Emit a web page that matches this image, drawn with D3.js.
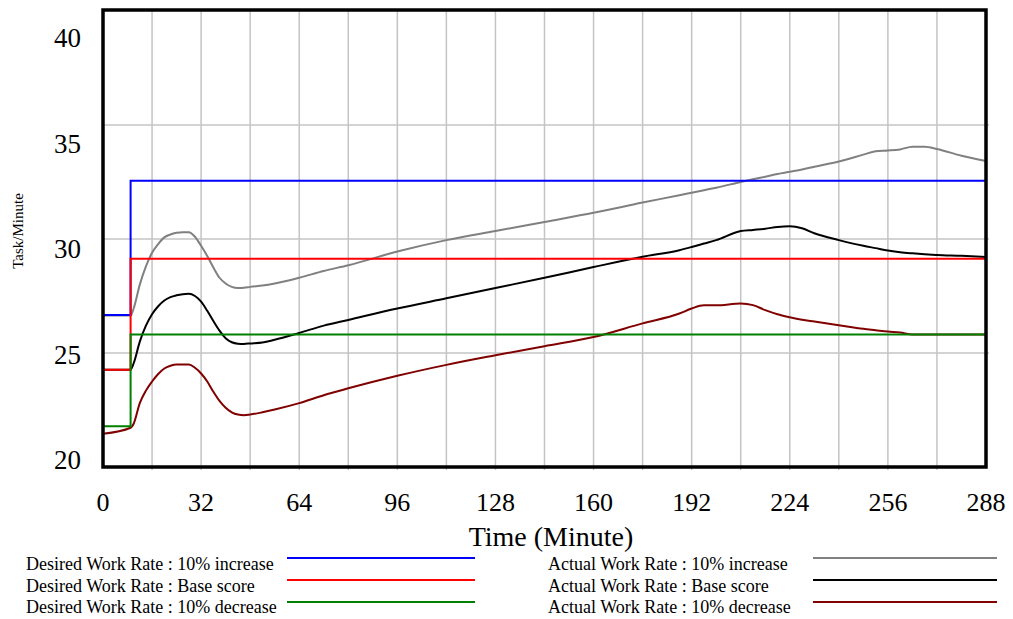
<!DOCTYPE html>
<html>
<head>
<meta charset="utf-8">
<script src="https://cdn.jsdelivr.net/npm/d3@7"></script>
<style>
  body { margin: 0; background: #fff; }
  svg { display: block; font-family: "Liberation Serif", "Times New Roman", serif; }
</style>
</head>
<body>
<svg id="chart" width="1013" height="619"></svg>
<script>
// time grid shared by the three "actual" series (minutes)
const times = [0, 9, 10, 12, 14, 16, 18, 20, 22, 24, 26, 28, 30, 32, 34, 36, 38, 40, 42, 44, 46, 48,
  52, 56, 64, 72, 80, 96, 112, 128, 144, 160, 176, 188, 192, 196, 200, 208, 212, 216, 220, 224, 228,
  232, 240, 248, 252, 256, 260, 264, 268, 272, 280, 288];

const actualUp = [26.64, 26.64, 26.95, 28.0, 28.8, 29.4, 29.78, 30.07, 30.2, 30.27, 30.3, 30.3, 30.1,
  29.7, 29.25, 28.75, 28.3, 28.05, 27.9, 27.85, 27.86, 27.9, 27.96, 28.05, 28.3, 28.6, 28.85, 29.45,
  29.95, 30.35, 30.75, 31.15, 31.6, 31.92, 32.03, 32.14, 32.25, 32.5, 32.62, 32.73, 32.85, 32.95, 33.05,
  33.17, 33.4, 33.7, 33.85, 33.88, 33.93, 34.05, 34.05, 33.95, 33.65, 33.42];

const actualBase = [24.27, 24.27, 24.55, 25.5, 26.2, 26.7, 27.05, 27.3, 27.45, 27.53, 27.58, 27.6, 27.5,
  27.25, 26.85, 26.4, 25.98, 25.65, 25.47, 25.41, 25.4, 25.42, 25.46, 25.58, 25.88, 26.2, 26.45, 26.95,
  27.4, 27.85, 28.3, 28.77, 29.22, 29.51, 29.65, 29.8, 29.95, 30.35, 30.4, 30.45, 30.53, 30.56, 30.47,
  30.25, 29.95, 29.7, 29.6, 29.5, 29.42, 29.37, 29.33, 29.3, 29.26, 29.21];

const actualDown = [21.46, 21.72, 21.9, 22.8, 23.35, 23.75, 24.08, 24.32, 24.44, 24.5, 24.5, 24.5, 24.35,
  24.1, 23.75, 23.3, 22.9, 22.6, 22.4, 22.3, 22.27, 22.3, 22.4, 22.52, 22.8, 23.15, 23.45, 24.0, 24.48,
  24.9, 25.3, 25.7, 26.3, 26.73, 26.95, 27.09, 27.09, 27.17, 27.1, 26.88, 26.7, 26.57, 26.46, 26.38,
  26.22, 26.06, 26.0, 25.94, 25.9, 25.81, 25.81, 25.81, 25.81, 25.81];

// desired work rate steps up at the policy change
const stepTimes = [0, 9, 288];
const desiredUp = [26.67, 32.55, 32.55];
const desiredBase = [24.27, 29.13, 29.13];
const desiredDown = [21.79, 25.81, 25.81];

const xTicks = [0, 32, 64, 96, 128, 160, 192, 224, 256, 288];
const yTicks = [20, 25, 30, 35, 40];

const series = [
  { name: "Actual Work Rate : 10% increase", t: times, v: actualUp, color: "#808080" },
  { name: "Actual Work Rate : Base score", t: times, v: actualBase, color: "#000000" },
  { name: "Actual Work Rate : 10% decrease", t: times, v: actualDown, color: "#800000" },
  { name: "Desired Work Rate : 10% increase", t: stepTimes, v: desiredUp, color: "#0000ff", step: true },
  { name: "Desired Work Rate : Base score", t: stepTimes, v: desiredBase, color: "#ff0000", step: true },
  { name: "Desired Work Rate : 10% decrease", t: stepTimes, v: desiredDown, color: "#008000", step: true }
];

const svg = d3.select("#chart");
const plotLeft = 103, plotRight = 986, plotTop = 11, plotBottom = 467;

const x = d3.scaleLinear().domain([0, 288]).range([plotLeft, plotRight]);
const y = d3.scaleLinear().domain([20, 40]).range([plotBottom, plotTop]);
// tick labels sit on their own evenly spaced baselines
const yLabel = d3.scaleLinear().domain([20, 40]).range([469, 47]);

// grid
svg.append("g")
  .selectAll("line")
  .data(d3.range(16, 288, 16))
  .join("line")
  .attr("x1", d => x(d)).attr("x2", d => x(d))
  .attr("y1", plotTop).attr("y2", plotBottom + 3)
  .attr("stroke", "#c4c4c4").attr("stroke-width", 1.5);

svg.append("g")
  .selectAll("line")
  .data([25, 30, 35])
  .join("line")
  .attr("x1", plotLeft).attr("x2", plotRight + 3)
  .attr("y1", d => y(d)).attr("y2", d => y(d))
  .attr("stroke", "#c4c4c4").attr("stroke-width", 1.5);

// lines
const plot = svg.append("g");
series.forEach(s => {
  const line = d3.line()
    .x((d, i) => x(s.t[i]))
    .y(d => y(d))
    .curve(s.step ? d3.curveStepAfter : d3.curveMonotoneX);
  plot.append("path")
    .datum(s.v)
    .attr("d", line)
    .attr("fill", "none")
    .attr("stroke", s.color)
    .attr("stroke-width", 2);
});

// frame
svg.append("rect")
  .attr("x", plotLeft).attr("y", plotTop - 1)
  .attr("width", plotRight - plotLeft).attr("height", plotBottom - plotTop + 1)
  .attr("fill", "none").attr("stroke", "#000").attr("stroke-width", 3.5);

// axis labels
svg.append("g")
  .selectAll("text")
  .data(xTicks)
  .join("text")
  .attr("x", d => x(d)).attr("y", 511)
  .attr("text-anchor", "middle")
  .attr("font-size", 26)
  .text(d => d);

svg.append("g")
  .selectAll("text")
  .data(yTicks)
  .join("text")
  .attr("x", 81).attr("y", d => yLabel(d))
  .attr("text-anchor", "end")
  .attr("font-size", 27)
  .text(d => d);

svg.append("text")
  .attr("x", 551).attr("y", 546)
  .attr("text-anchor", "middle")
  .attr("font-size", 28)
  .text("Time (Minute)");

svg.append("text")
  .attr("transform", "translate(23,231) rotate(-90)")
  .attr("text-anchor", "middle")
  .attr("font-size", 15)
  .text("Task/Minute");

// legend: desired on the left, actual on the right
const rowBase = [570, 591.5, 613];
const rowLine = [558, 580, 602];
const legendCols = [
  { items: series.slice(3), textX: 26, x1: 287, x2: 475 },
  { items: series.slice(0, 3), textX: 548, x1: 813, x2: 997 }
];
legendCols.forEach(col => {
  col.items.forEach((s, i) => {
    svg.append("text")
      .attr("x", col.textX).attr("y", rowBase[i])
      .attr("font-size", 18)
      .text(s.name);
    svg.append("line")
      .attr("x1", col.x1).attr("x2", col.x2)
      .attr("y1", rowLine[i]).attr("y2", rowLine[i])
      .attr("stroke", s.color).attr("stroke-width", 2);
  });
});
</script>
</body>
</html>
